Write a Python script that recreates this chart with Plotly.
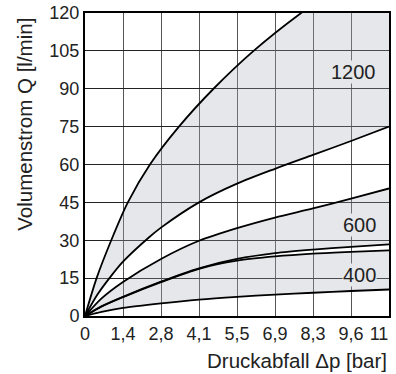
import plotly.graph_objects as go

# ---- data ----
x_ticks = [0, 1.375, 2.75, 4.125, 5.5, 6.875, 8.25, 9.625, 11]
x_ticklabels = ["0", "1,4", "2,8", "4,1", "5,5", "6,9", "8,3", "9,6", "11\u00a0\u00a0\u00a0\u00a0"]
y_ticks = [0, 15, 30, 45, 60, 75, 90, 105, 120]

# 1200 band
q1200_hi_x = [0, 0.42, 0.95, 1.55, 2.35, 3.4, 4.65, 6.10, 7.82, 9.4, 11]
q1200_hi_y = [0, 15, 30, 45, 60, 75, 90, 105, 120, 131.9, 142.8]
q1200_lo_x = [0, 0.45, 0.92, 1.375, 2.3, 2.75, 4.125, 5.5, 6.875, 8.25, 9.625, 11]
q1200_lo_y = [0, 8.5, 15.5, 21.5, 31, 35, 45, 52.4, 58.3, 63.8, 69.3, 75]

# 600 / 400 bands
dp_small = [0, 0.6, 1.375, 2.75, 4.125, 5.5, 6.875, 8.25, 9.625, 11]
q600_hi_y = [0, 7, 13.5, 22.6, 29.8, 34.8, 39.0, 42.6, 46.5, 50.5]
q600_lo_y = [0, 3.8, 7.6, 13.6, 18.9, 22.6, 24.9, 26.3, 27.4, 28.4]
q400_hi_y = [0, 3.8, 7.5, 13.4, 18.7, 21.9, 23.6, 24.7, 25.4, 26.0]
q400_lo_y = [0, 1.6, 3.2, 5.0, 6.5, 7.6, 8.5, 9.2, 9.9, 10.5]

band_labels = ["1200", "600", "400"]
band_label_y = [96.5, 36.1, 16.3]
band_label_x = 10.55

FONT = "Liberation Sans, Arial, sans-serif"
FILL = "rgba(170,175,185,0.30)"
BANDBG = "#e6e7ea"
LINE = dict(color="black", width=1.8, shape="spline", smoothing=0.8)

fig = go.Figure()

def add(x, y, fill=None):
    fig.add_trace(go.Scatter(x=x, y=y, mode="lines", line=LINE,
                             fill=fill if fill else "none",
                             fillcolor=FILL, hoverinfo="skip", showlegend=False))

add(dp_small, q400_lo_y)
add(dp_small, q400_hi_y, "tonexty")
add(dp_small, q600_lo_y)
add(dp_small, q600_hi_y, "tonexty")
add(q1200_lo_x, q1200_lo_y)
add(q1200_hi_x, q1200_hi_y, "tonexty")

for txt, yy in zip(band_labels, band_label_y):
    fig.add_annotation(x=band_label_x, y=yy, text=txt, showarrow=False,
                       xanchor="right", yanchor="middle",
                       font=dict(family=FONT, size=20, color="#222"),
                       bgcolor=BANDBG, borderpad=0)

fig.add_annotation(xref="paper", yref="paper", x=1.0, y=-0.146,
                   text="Druckabfall \u0394p [bar]", showarrow=False,
                   xanchor="right", yanchor="middle",
                   font=dict(family=FONT, size=20.5, color="#222"))
fig.add_annotation(xref="paper", yref="paper", x=-0.198, y=0.634,
                   text="Volumenstrom Q [l/min]", showarrow=False, textangle=-90,
                   xanchor="center", yanchor="middle",
                   font=dict(family=FONT, size=20.5, color="#222"))

fig.update_layout(
    width=396, height=374,
    margin=dict(l=85, r=7, t=13, b=58, autoexpand=False),
    paper_bgcolor="white", plot_bgcolor="white",
    font=dict(family=FONT, size=18, color="#222"),
    showlegend=False,
)
fig.update_xaxes(range=[0, 11], tickvals=x_ticks, ticktext=x_ticklabels,
                 showgrid=True, gridcolor="#555", gridwidth=1,
                 showline=True, linecolor="black", linewidth=2, mirror=True,
                 ticks="", zeroline=False, tickfont=dict(size=18),
                 automargin=False, ticklabeloverflow="allow", tickangle=0)
fig.update_yaxes(range=[0, 120], tickvals=y_ticks,
                 showgrid=True, gridcolor="#222", gridwidth=1,
                 showline=True, linecolor="black", linewidth=2, mirror=True,
                 ticks="", zeroline=False, tickfont=dict(size=18),
                 automargin=False)

fig.write_html("out.html",
               config={"displayModeBar": False, "staticPlot": True},
               post_script="document.body.style.margin='0';document.body.style.overflow='hidden';")
